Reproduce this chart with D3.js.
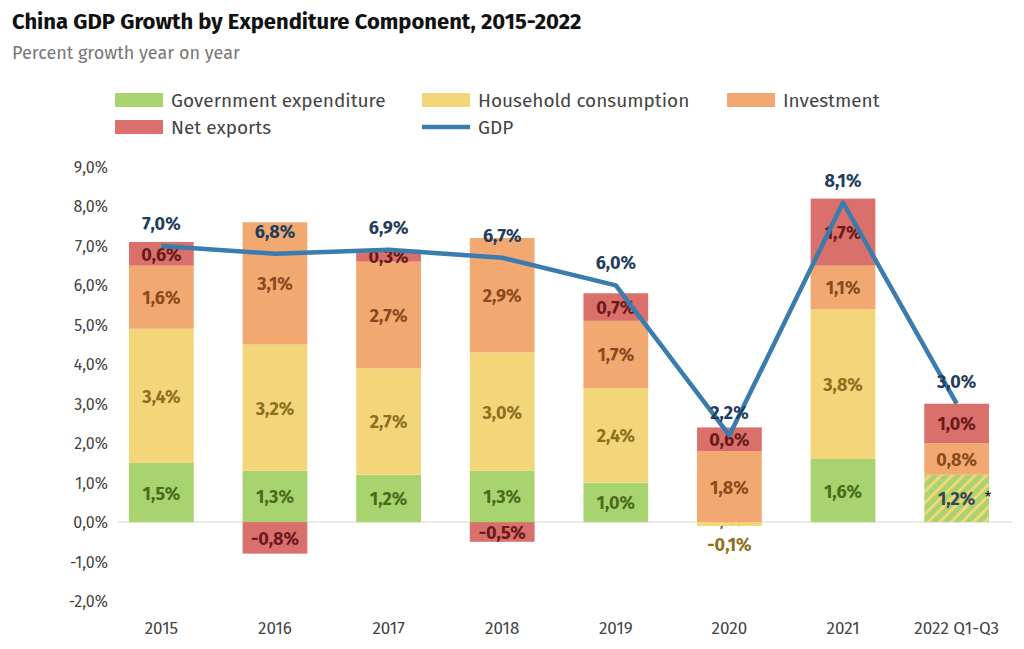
<!doctype html>
<html>
<head>
<style>
body { margin:0; background:#fff; font-family:"Fira Sans","Noto Sans",sans-serif; }
</style>
<script src="https://d3js.org/d3.v7.min.js"></script>
</head>
<body>
<svg width="1024" height="649"></svg>
<script>
var years = ["2015","2016","2017","2018","2019","2020","2021","2022 Q1-Q3"];
var gov = [1.5, 1.3, 1.2, 1.3, 1.0, 0.0, 1.6, 1.2];
var household = [3.4, 3.2, 2.7, 3.0, 2.4, -0.1, 3.8, 0.0];
var investment = [1.6, 3.1, 2.7, 2.9, 1.7, 1.8, 1.1, 0.8];
var netExports = [0.6, -0.8, 0.3, -0.5, 0.7, 0.6, 1.7, 1.0];
var gdp = [7.0, 6.8, 6.9, 6.7, 6.0, 2.2, 8.1, 3.0];
var yTicks = [-2,-1,0,1,2,3,4,5,6,7,8,9];

var series = [
  {name:"Government expenditure", vals:gov, fill:"#a8d46f", txt:"#4b6b1c"},
  {name:"Household consumption", vals:household, fill:"#f4d67a", txt:"#8c7020"},
  {name:"Investment", vals:investment, fill:"#f2a971", txt:"#8a4a1e"},
  {name:"Net exports", vals:netExports, fill:"#d9706c", txt:"#6a1a1a"}
];
function fmt(v){ return v.toFixed(1).replace(".", ",") + "%"; }

var svg = d3.select("svg");
var defs = svg.append("defs");
var pat = defs.append("pattern").attr("id","hatch").attr("patternUnits","userSpaceOnUse")
  .attr("width",8).attr("height",8).attr("patternTransform","rotate(45)");
pat.append("rect").attr("width",8).attr("height",8).attr("fill","#a8d46f");
pat.append("rect").attr("width",3).attr("height",8).attr("fill","#f4d67a");

svg.append("text").attr("x",12).attr("y",29).attr("font-size",22).attr("font-weight","bold")
  .attr("fill","#111").text("China GDP Growth by Expenditure Component, 2015-2022");
svg.append("text").attr("x",12).attr("y",59).attr("font-size",18).attr("fill","#777")
  .text("Percent growth year on year");

var x = d3.scaleBand().domain(years).range([104, 1014]).paddingInner(0.43).paddingOuter(0.22);
var y = d3.scaleLinear().domain([-2, 9]).range([601, 167]);

// legend
var leg = [
  {name:series[0].name, fill:series[0].fill, x:115, y:100},
  {name:series[1].name, fill:series[1].fill, x:422, y:100},
  {name:series[2].name, fill:series[2].fill, x:727, y:100},
  {name:series[3].name, fill:series[3].fill, x:115, y:127},
  {name:"GDP", line:true, x:422, y:127}
];
leg.forEach(function(l){
  if (l.line) svg.append("line").attr("x1",l.x).attr("x2",l.x+48).attr("y1",l.y).attr("y2",l.y)
    .attr("stroke","#3a7cad").attr("stroke-width",4.5);
  else svg.append("rect").attr("x",l.x).attr("y",l.y-7).attr("width",48).attr("height",14).attr("fill",l.fill);
  svg.append("text").attr("x",l.x+56).attr("y",l.y+7).attr("font-size",19).attr("fill","#444").text(l.name);
});

// y axis labels
svg.append("g").selectAll("text").data(yTicks).enter().append("text")
  .attr("x",108).attr("y",function(d){return y(d)+6;}).attr("text-anchor","end")
  .attr("font-size",16).attr("fill","#444").text(function(d){return fmt(d);});
svg.append("line").attr("x1",118).attr("x2",1012).attr("y1",y(0)).attr("y2",y(0))
  .attr("stroke","#e2e2e2").attr("stroke-width",1.5);

// stacked bars
var bw = x.bandwidth();
years.forEach(function(yr, i){
  var pos = 0, neg = 0;
  series.forEach(function(s, si){
    var v = s.vals[i];
    var y0, y1;
    if (v >= 0) { y0 = pos; y1 = pos + v; pos = y1; } else { y0 = neg + v; y1 = neg; neg = y0; }
    var fill = s.fill;
    if (i === 7 && si === 0) fill = "url(#hatch)";
    if (v !== 0 || (si === 0 && i === 5)) {
      var h = Math.max(y(y0) - y(y1), v === 0 ? 0 : 0);
      svg.append("rect").attr("x",x(yr)).attr("y",y(y1)).attr("width",bw).attr("height",h).attr("fill",fill);
    }
    if (i === 7 && si === 1) return;
    var ly = (y(y0) + y(y1)) / 2 + 7;
    if (i === 5 && si === 0) ly = y(0) + 4;
    if (i === 5 && si === 1) ly = y(0) + 29;
    svg.append("text").attr("x",x(yr)+bw/2).attr("y",ly).attr("text-anchor","middle")
      .attr("font-size",18).attr("font-weight","bold").attr("fill", i===7&&si===0 ? "#3a4550" : s.txt)
      .text(fmt(v) );
    if (i === 7 && si === 0) svg.append("text").attr("x",x(yr)+bw/2+28).attr("y",ly-3)
      .attr("font-size",15).attr("fill","#111").text("*");
  });
});

// GDP line
var line = d3.line().x(function(d,i){return x(years[i])+bw/2;}).y(function(d){return y(d);});
svg.append("path").datum(gdp).attr("d",line).attr("fill","none").attr("stroke","#3a7cad")
  .attr("stroke-width",4.5).attr("stroke-linejoin","round");
svg.append("g").selectAll("text").data(gdp).enter().append("text")
  .attr("x",function(d,i){return x(years[i])+bw/2;}).attr("y",function(d){return y(d)-16;})
  .attr("text-anchor","middle").attr("font-size",18).attr("font-weight","bold").attr("fill","#1f3d5c")
  .text(function(d){return fmt(d);});

// x labels
svg.append("g").selectAll("text").data(years).enter().append("text")
  .attr("x",function(d){return x(d)+bw/2;}).attr("y",634).attr("text-anchor","middle")
  .attr("font-size",17).attr("fill","#444").text(function(d){return d;});
</script>
</body>
</html>
